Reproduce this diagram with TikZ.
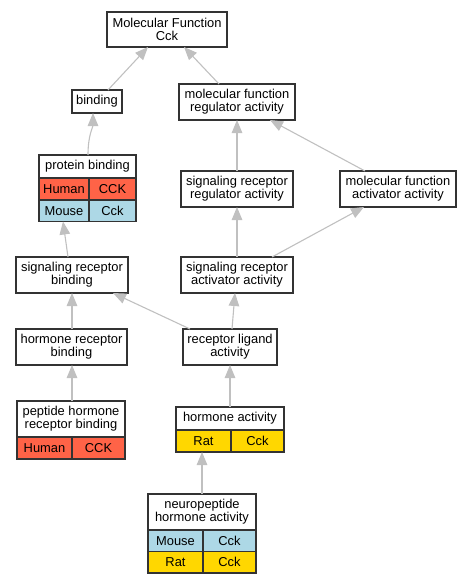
\documentclass[tikz,border=0pt]{standalone}
\usepackage{fontspec}
\setmainfont{Liberation Sans}
\usetikzlibrary{arrows.meta,calc}
\definecolor{humanc}{HTML}{FF6347}
\definecolor{mousec}{HTML}{ADD8E6}
\definecolor{ratc}{HTML}{FFD700}
\definecolor{edgec}{HTML}{C0C0C0}
\definecolor{borderc}{HTML}{333333}
\tikzset{
  box/.style={draw=borderc, line width=1.2pt, fill=white, inner sep=0pt, outer sep=0pt,
    align=center, font=\fontsize{12.9}{13}\selectfont},
  cell/.style={box},
  human/.style={cell, fill=humanc},
  mouse/.style={cell, fill=mousec},
  rat/.style={cell, fill=ratc},
  edge/.style={draw=edgec, line width=1.1pt, -{Triangle[width=10.5pt,length=13pt]}}
}
\begin{document}
\begin{tikzpicture}[x=1pt,y=-1pt]
\useasboundingbox (0,0) rectangle (471,584);
% plain boxes
\node[box, minimum width=120, minimum height=35] (mf) at (167,29.5) {Molecular Function\\Cck};
\node[box, minimum width=50, minimum height=23] (bind) at (97,101.5) {binding};
\node[box, minimum width=116, minimum height=36] (mfr) at (237,102) {molecular function\\regulator activity};
\node[box, minimum width=112, minimum height=36] (srra) at (237,189) {signaling receptor\\regulator activity};
\node[box, minimum width=116, minimum height=36] (mfaa) at (398,189) {molecular function\\activator activity};
\node[box, minimum width=112, minimum height=36] (srb) at (72,275) {signaling receptor\\binding};
\node[box, minimum width=112, minimum height=36] (sraa) at (237,275) {signaling receptor\\activator activity};
\node[box, minimum width=111, minimum height=36] (hrb) at (71.5,347) {hormone receptor\\binding};
\node[box, minimum width=94, minimum height=36] (rla) at (230,347) {receptor ligand\\activity};
% protein binding table
\node[box, minimum width=97, minimum height=23] (pb) at (87.5,166.5) {protein binding};
\node[human, minimum width=50, minimum height=21.5] (pbh) at (64,189.25) {Human};
\node[human, minimum width=47, minimum height=21.5] (pbhg) at (112.5,189.25) {CCK};
\node[mouse, minimum width=50, minimum height=21.5] (pbm) at (64,210.75) {Mouse};
\node[mouse, minimum width=47, minimum height=21.5] (pbmg) at (112.5,210.75) {Cck};
% peptide hormone receptor binding table
\node[box, minimum width=108, minimum height=36] (phrb) at (71,419) {peptide hormone\\receptor binding};
\node[human, minimum width=55, minimum height=22] (phrbh) at (44.5,448) {Human};
\node[human, minimum width=53, minimum height=22] (phrbhg) at (98.5,448) {CCK};
% hormone activity table
\node[box, minimum width=108, minimum height=23] (ha) at (230,418.5) {hormone activity};
\node[rat, minimum width=55, minimum height=22] (har) at (203.5,441) {Rat};
\node[rat, minimum width=53, minimum height=22] (harg) at (257.5,441) {Cck};
% neuropeptide hormone activity table
\node[box, minimum width=108, minimum height=36] (nha) at (202,512) {neuropeptide\\hormone activity};
\node[mouse, minimum width=55, minimum height=21.5] (nham) at (175.5,540.75) {Mouse};
\node[mouse, minimum width=53, minimum height=21.5] (nhamg) at (229.5,540.75) {Cck};
\node[rat, minimum width=55, minimum height=21.5] (nhar) at (175.5,562.25) {Rat};
\node[rat, minimum width=53, minimum height=21.5] (nharg) at (229.5,562.25) {Cck};
% edges
\draw[edge] ($(bind.north)+(11,0)$) -- ($(mf.south)+(-19,0)$);
\draw[edge] ($(mfr.north)+(-18,0)$) -- ($(mf.south)+(17,0)$);
\draw[edge] ($(pb.north)+(0.5,0)$) .. controls ($(pb.north)+(0.5,-20)$) and ($(bind.south)+(-4,14)$) .. ($(bind.south)+(-4,0)$);
\draw[edge] (srra.north) -- (mfr.south);
\draw[edge] ($(mfaa.north)+(-33,0)$) -- ($(mfr.south)+(33,0)$);
\draw[edge] ($(srb.north)+(-4,0)$) -- ($(pbm.south)+(-1,0)$);
\draw[edge] (sraa.north) -- (srra.south);
\draw[edge] ($(sraa.north)+(35,0)$) -- ($(mfaa.south)+(-34,0)$);
\draw[edge] ($(hrb.north)+(0.5,0)$) -- (srb.south);
\draw[edge] ($(rla.north)+(-40,0)$) -- ($(srb.south)+(41,0)$);
\draw[edge] ($(rla.north)+(2,0)$) -- ($(sraa.south)+(-2,0)$);
\draw[edge] ($(phrb.north)+(1,0)$) -- ($(hrb.south)+(0.5,0)$);
\draw[edge] (ha.north) -- (rla.south);
\draw[edge] (nha.north) -- ($(har.south)+(-1.5,0)$);
\end{tikzpicture}
\end{document}
